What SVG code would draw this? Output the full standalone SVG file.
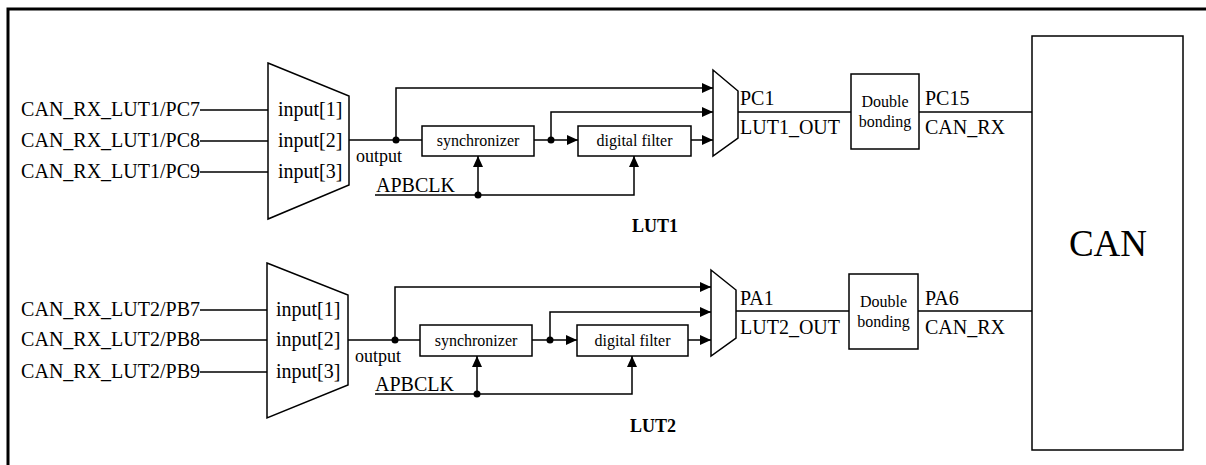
<svg xmlns="http://www.w3.org/2000/svg" width="1206" height="465" viewBox="0 0 1206 465">
<defs>
<marker id="arr" markerUnits="userSpaceOnUse" markerWidth="11" markerHeight="10" refX="11" refY="5" orient="auto">
<path d="M0,0 L11,5 L0,10 Z" fill="#000"/>
</marker>
<style>
text{font-family:"Liberation Serif","Times New Roman",serif;fill:#000}
.lbl{font-size:20px}
.sm{font-size:16px}
.out{font-size:18px}
.bold{font-size:18px;font-weight:bold}
.big{font-size:37px}
.ln{fill:none;stroke:#000;stroke-width:1.5}
.ar{fill:none;stroke:#000;stroke-width:1.5;marker-end:url(#arr)}
.box{fill:#fff;stroke:#000;stroke-width:1.5}
.dot{fill:#000}
</style>
</defs>
<rect width="1206" height="465" fill="#fff"/>
<path d="M8,465 L8,9 L1206,9" fill="none" stroke="#000" stroke-width="3"/>

<g id="connectors">
<path class="ln" d="M200,110 H268 M200,141 H268 M200,172 H268"/>
<path class="ln" d="M349,140 H422"/>
<path class="ar" d="M396,140 V88 H713"/>
<path class="ar" d="M534,140 H578"/>
<path class="ar" d="M551,140 V112 H713"/>
<path class="ar" d="M691,140 H713"/>
<path class="ln" d="M738,112 H851"/>
<path class="ln" d="M919,112 H1032"/>
<path class="ar" d="M375,195 H634 V156"/>
<path class="ar" d="M478,195 V156"/>
<path class="ln" d="M200,310 H267 M200,340 H267 M200,372 H267"/>
<path class="ln" d="M348,340 H420"/>
<path class="ar" d="M395,340 V287 H711"/>
<path class="ar" d="M532,340 H577"/>
<path class="ar" d="M550,340 V312 H711"/>
<path class="ar" d="M688,340 H711"/>
<path class="ln" d="M736,311 H849"/>
<path class="ln" d="M918,311 H1032"/>
<path class="ar" d="M375,394 H632 V356"/>
<path class="ar" d="M477,394 V356"/>
<circle class="dot" cx="396" cy="140" r="3.5"/>
<circle class="dot" cx="551" cy="140" r="3.5"/>
<circle class="dot" cx="478" cy="195" r="3.5"/>
<circle class="dot" cx="395" cy="340" r="3.5"/>
<circle class="dot" cx="550" cy="340" r="3.5"/>
<circle class="dot" cx="477" cy="394" r="3.5"/>
</g>

<g id="lut1-inputs">
<text class="lbl" x="200" y="116" text-anchor="end">CAN_RX_LUT1/PC7</text>
<text class="lbl" x="200" y="147" text-anchor="end">CAN_RX_LUT1/PC8</text>
<text class="lbl" x="200" y="178" text-anchor="end">CAN_RX_LUT1/PC9</text>
</g>
<g id="lut1-mux">
<polygon class="box" points="268,63 349,96 349,185 268,219"/>
<text class="lbl" x="278" y="116">input[1]</text>
<text class="lbl" x="278" y="147">input[2]</text>
<text class="lbl" x="278" y="178">input[3]</text>
</g>
<g id="lut1-labels">
<text class="out" x="356" y="162">output</text>
<text class="lbl" x="376" y="192">APBCLK</text>
<text class="bold" x="655" y="232" text-anchor="middle">LUT1</text>
</g>
<g id="lut1-sync">
<rect class="box" x="422" y="126" width="112" height="30"/>
<text class="sm" x="478" y="146" text-anchor="middle">synchronizer</text>
</g>
<g id="lut1-filter">
<rect class="box" x="578" y="126" width="113" height="30"/>
<text class="sm" x="634.5" y="146" text-anchor="middle">digital filter</text>
</g>
<g id="lut1-sel">
<polygon class="box" points="713,70 738,91 738,138 713,156"/>
</g>
<g id="lut1-out">
<text class="lbl" x="740" y="105">PC1</text>
<text class="lbl" x="740" y="134">LUT1_OUT</text>
</g>
<g id="lut1-db">
<rect class="box" x="851" y="74" width="68" height="75"/>
<text class="sm" x="885" y="107" text-anchor="middle">Double</text>
<text class="sm" x="885" y="127" text-anchor="middle">bonding</text>
</g>
<g id="lut1-can">
<text class="lbl" x="925" y="105">PC15</text>
<text class="lbl" x="925" y="134">CAN_RX</text>
</g>

<g id="lut2-inputs">
<text class="lbl" x="200" y="316" text-anchor="end">CAN_RX_LUT2/PB7</text>
<text class="lbl" x="200" y="346" text-anchor="end">CAN_RX_LUT2/PB8</text>
<text class="lbl" x="200" y="378" text-anchor="end">CAN_RX_LUT2/PB9</text>
</g>
<g id="lut2-mux">
<polygon class="box" points="267,263 348,295 348,385 267,418"/>
<text class="lbl" x="276" y="316">input[1]</text>
<text class="lbl" x="276" y="346">input[2]</text>
<text class="lbl" x="276" y="378">input[3]</text>
</g>
<g id="lut2-labels">
<text class="out" x="355" y="362">output</text>
<text class="lbl" x="375" y="391">APBCLK</text>
<text class="bold" x="653" y="432" text-anchor="middle">LUT2</text>
</g>
<g id="lut2-sync">
<rect class="box" x="420" y="325" width="112" height="31"/>
<text class="sm" x="476" y="346" text-anchor="middle">synchronizer</text>
</g>
<g id="lut2-filter">
<rect class="box" x="577" y="325" width="111" height="31"/>
<text class="sm" x="632.5" y="346" text-anchor="middle">digital filter</text>
</g>
<g id="lut2-sel">
<polygon class="box" points="711,270 736,290 736,338 711,356"/>
</g>
<g id="lut2-out">
<text class="lbl" x="740" y="305">PA1</text>
<text class="lbl" x="740" y="334">LUT2_OUT</text>
</g>
<g id="lut2-db">
<rect class="box" x="849" y="274" width="69" height="75"/>
<text class="sm" x="883.5" y="307" text-anchor="middle">Double</text>
<text class="sm" x="883.5" y="327" text-anchor="middle">bonding</text>
</g>
<g id="lut2-can">
<text class="lbl" x="925" y="305">PA6</text>
<text class="lbl" x="925" y="334">CAN_RX</text>
</g>

<g id="can">
<rect class="box" x="1032" y="36" width="151" height="414"/>
<text class="big" x="1108" y="256" text-anchor="middle">CAN</text>
</g>
</svg>
